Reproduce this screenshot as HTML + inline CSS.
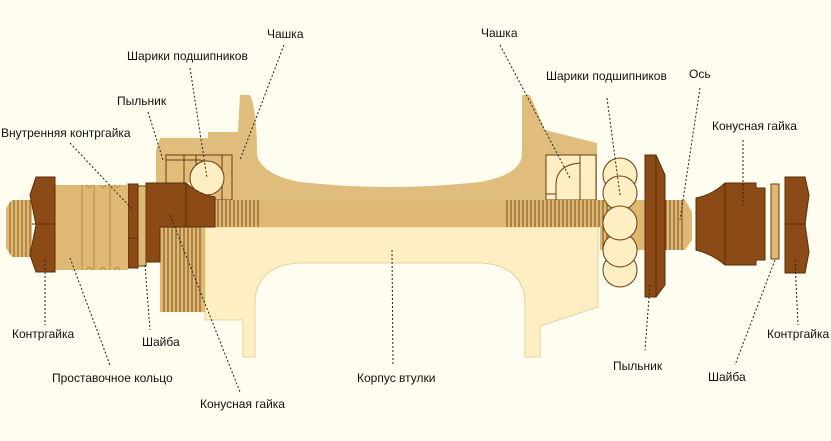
<!DOCTYPE html>
<html><head><meta charset="utf-8"><style>
html,body{margin:0;padding:0;background:#fffcf0;}
svg{display:block}
text{font-family:"Liberation Sans",sans-serif;font-size:12px;fill:#111;}
.d{stroke:#222;stroke-width:1;stroke-dasharray:2,2;fill:none}
.o{stroke:#6b3c0c;stroke-width:1}
</style></head><body>
<svg width="831" height="441" viewBox="0 0 831 441" xmlns="http://www.w3.org/2000/svg">
<rect width="831" height="441" fill="#fffcf0"/>
<!-- lower light hub body -->
<path d="M205 227 H598 V307 L540 326 V357 H525 V300 Q522 265 480 263 H300 Q258 265 255 300 V357 H243 V320 H205 Z" fill="#fdefc3" stroke="#e0c98e" stroke-width="0.8"/>
<!-- upper hub body -->
<path d="M156 150 L160 138 H208 V132 H238 L240 95 H250 Q257 110 257 155 Q262 175 300 182 Q390 192 480 182 Q520 175 522 155 L522 95 H530 L545 130 L597 143 V200 H210 V183 H156 Z" fill="#e0bd7c"/>
<!-- left bearing cup -->
<path d="M166 155 H232 V200 H222 V185 Q218 165 200 160 H166 Z" fill="none" class="o"/>
<rect x="166" y="155" width="66" height="45" fill="none" class="o"/>
<line x1="184" y1="155" x2="184" y2="183" class="o"/>
<line x1="196" y1="155" x2="196" y2="175" class="o"/>
<line x1="222" y1="155" x2="222" y2="200" class="o"/>
<circle cx="207" cy="178" r="17" fill="#fdefc3" class="o"/>
<!-- right bearing cup -->
<rect x="546" y="155" width="50" height="45" fill="#fdefc3" class="o"/>
<path d="M556 200 V185 Q556 165 580 163 V200" fill="none" class="o"/>
<line x1="580" y1="155" x2="580" y2="200" class="o"/>
<line x1="546" y1="194" x2="556" y2="194" class="o"/>
<!-- axle -->
<rect x="205" y="200" width="395" height="27" fill="#dfb874"/>
<path d="M600 200 H685 L692 212 V240 L685 250 H600 Z" fill="#dfb874"/>
<g stroke="#7a4a14" stroke-width="1">
<path d="M218 200v27M222 200v27M226 200v27M230 200v27M234 200v27M238 200v27M242 200v27M246 200v27M250 200v27M254 200v27M258 200v27"/>
<path d="M507 200v27M511 200v27M515 200v27M519 200v27M523 200v27M527 200v27M531 200v27M535 200v27M539 200v27M543 200v27M547 200v27M551 200v27M555 200v27M559 200v27M563 200v27M567 200v27M571 200v27M575 200v27M579 200v27M583 200v27M587 200v27M591 200v27M595 200v27M599 200v27M603 200v50M607 200v50"/>
<path d="M666 200v50M670 200v50M674 200v50M678 200v50M682 200v50"/>
</g>
<!-- left axle end -->
<path d="M12 200 H32 V257 H12 L6 248 V208 Z" fill="#dfb874"/>
<g stroke="#8a5a20" stroke-width="1"><path d="M10 202v52M14 200v57M18 200v57M22 200v57M26 200v57M30 200v57"/></g>
<!-- left cone threaded part -->
<rect x="160" y="227" width="45" height="85" fill="#dfb874"/>
<g stroke="#7a4a14" stroke-width="1"><path d="M164 227v85M168 227v85M172 227v85M176 227v85M180 227v85M184 227v85M188 227v85M192 227v85M196 227v85M200 227v85"/></g>
<!-- left cone nut -->
<path d="M146 183 H186 Q200 195 215 197 V227 H160 V262 H146 Z" fill="#8b4a16" stroke="#5a2e08" stroke-width="1"/>
<line x1="186" y1="183" x2="186" y2="227" stroke="#5a2e08"/>
<!-- washer, inner locknut -->
<rect x="138" y="186" width="8" height="80" fill="#dfb874" class="o"/>
<rect x="128" y="184" width="10" height="84" fill="#8b4a16" stroke="#5a2e08"/>
<line x1="128" y1="238" x2="138" y2="238" stroke="#5a2e08"/>
<!-- spacer ring -->
<path d="M55 185 H128 V270 H55 Z" fill="#dfb874"/>
<g stroke="#b88a45" stroke-width="1" fill="none">
<path d="M86 185 Q89 190 92 185 M86 270 Q89 265 92 270 M100 185 Q103 190 106 185 M100 270 Q103 265 106 270 M114 185 Q117 190 120 185 M114 270 Q117 265 120 270"/>
<path d="M82 185v85M94 185v85M110 185v85"/>
</g>
<!-- left locknut -->
<path d="M36 177 H55 V272 H36 L30 255 L36 225 L30 195 Z" fill="#8b4a16" stroke="#5a2e08"/>
<line x1="32" y1="224" x2="55" y2="224" stroke="#5a2e08"/>
<!-- balls right -->
<g fill="#fdefc3" class="o">
<circle cx="620" cy="270" r="17"/><circle cx="620" cy="250" r="17"/>
<circle cx="620" cy="175" r="17"/><circle cx="620" cy="193" r="17"/><circle cx="620" cy="223" r="17"/>
</g>
<!-- right dust seal -->
<path d="M645 155 H656 L665 175 V285 L656 297 H645 Z" fill="#8b4a16" stroke="#5a2e08"/>
<line x1="656" y1="155" x2="656" y2="297" stroke="#5a2e08"/>
<!-- right cone nut -->
<path d="M696 198 Q712 195 725 183 H756 V188 H765 V260 H756 V265 H725 Q712 254 696 250 Z" fill="#8b4a16" stroke="#5a2e08"/>
<line x1="725" y1="183" x2="725" y2="265" stroke="#5a2e08"/>
<rect x="771" y="184" width="8" height="75" fill="#dfb874" class="o"/>
<path d="M785 177 H805 L809 195 L805 224 L809 252 L805 273 H785 Z" fill="#8b4a16" stroke="#5a2e08"/>
<line x1="785" y1="224" x2="806" y2="224" stroke="#5a2e08"/>
<!-- leader lines -->
<path class="d" d="M284 45 L240 160"/>
<path class="d" d="M190 68 L207 178"/>
<path class="d" d="M148 112 L163 160"/>
<path class="d" d="M70 143 L133 210"/>
<path class="d" d="M45 260 L45 325"/>
<path class="d" d="M70 258 L110 365"/>
<path class="d" d="M145 265 L150 330"/>
<path class="d" d="M170 215 L240 392"/>
<path class="d" d="M392 250 L393 365"/>
<path class="d" d="M500 45 L570 178"/>
<path class="d" d="M607 98 L620 195"/>
<path class="d" d="M700 88 L680 220"/>
<path class="d" d="M743 140 L743 205"/>
<path class="d" d="M650 285 L645 350"/>
<path class="d" d="M775 260 L735 365"/>
<path class="d" d="M795 260 L798 325"/>
<!-- labels -->
<text x="267" y="38">Чашка</text>
<text x="127" y="60">Шарики подшипников</text>
<text x="117" y="105">Пыльник</text>
<text x="1" y="137">Внутренняя контргайка</text>
<text x="12" y="338">Контргайка</text>
<text x="142" y="346">Шайба</text>
<text x="52" y="382">Проставочное кольцо</text>
<text x="200" y="408">Конусная гайка</text>
<text x="357" y="382">Корпус втулки</text>
<text x="481" y="37">Чашка</text>
<text x="546" y="80">Шарики подшипников</text>
<text x="689" y="78">Ось</text>
<text x="712" y="130">Конусная гайка</text>
<text x="613" y="370">Пыльник</text>
<text x="708" y="381">Шайба</text>
<text x="767" y="338">Контргайка</text>
</svg>
</body></html>
